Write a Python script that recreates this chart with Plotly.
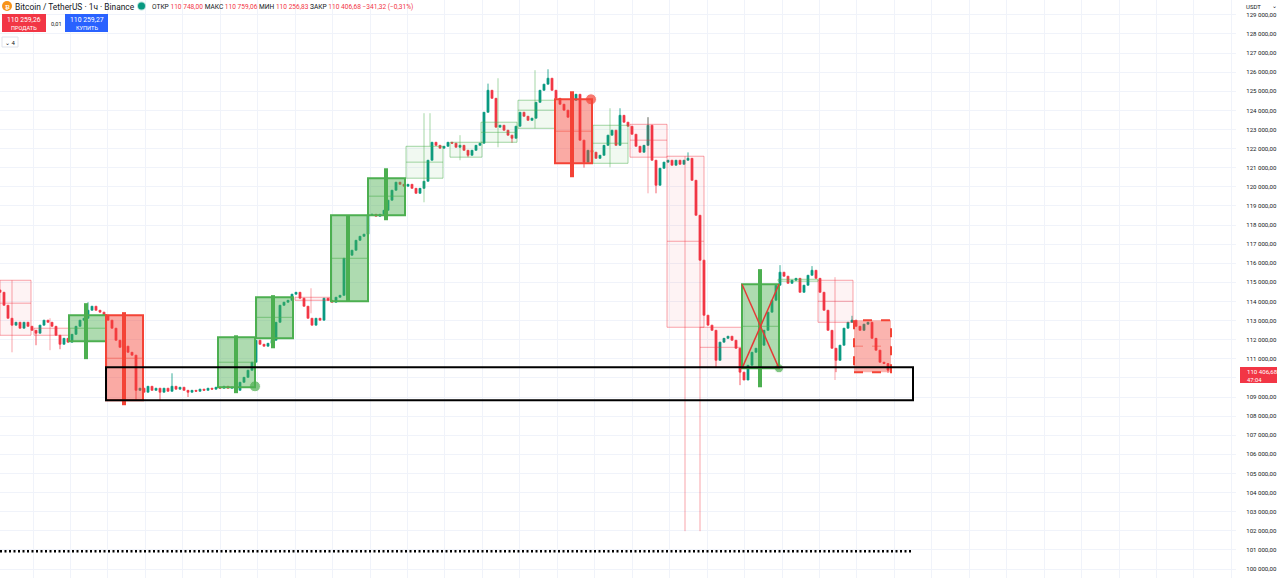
import plotly.graph_objects as go

# ---------------- data (hourly BTC/USDT candles) ----------------
closes = [
    114480, 113800, 113120, 112760, 112910, 112600, 112910, 112700, 112490, 112340,
    112760, 113020, 112910, 112700, 112230, 111760, 112070, 111870, 112280, 112700,
    113020, 113120, 113540, 113750, 113540, 113440, 113280, 113020, 112600, 111970,
    111600, 111660, 111340, 111190, 109350, 109460, 109250, 109560, 109350, 109460,
    109250, 109460, 109300, 109560, 109410, 109510, 109350, 109250, 109350, 109300,
    109410, 109350, 109460, 109410, 109510, 109460, 109560, 109460, 109510, 109350,
    109770, 110030, 110400, 110820, 111970, 111760, 111660, 111810, 111970, 112910,
    113800, 113960, 114060, 114380, 114480, 114170, 113750, 113120, 112760, 113120,
    113020, 114170, 114060, 113960, 114220, 114320, 116260, 116420, 116680, 117200,
    117410, 117520, 118510, 118560, 118460, 118560, 118770, 119300, 119820, 120240,
    120130, 120030, 120130, 119920, 119660, 119920, 120290, 121390, 122330, 122170,
    122020, 122120, 122330, 122280, 122070, 122170, 121910, 121650, 121910, 122170,
    122280, 123900, 125050, 124630, 123120, 123220, 122960, 122700, 122540, 123170,
    123900, 123690, 123480, 123590, 124420, 125050, 125370, 125680, 125050, 124630,
    124320, 124010, 123640, 124530, 124840, 122440, 121290, 121910, 121810, 121490,
    121650, 122170, 122700, 122960, 122170, 123740, 123380, 123170, 122750, 122120,
    121810, 122170, 123220, 121390, 120080, 120970, 121290, 121390, 121130, 121390,
    121180, 121390, 121490, 120340, 118510, 116160, 113280, 112760, 112490, 110920,
    111870, 112070, 112180, 111970, 111550, 110300, 109890, 110660, 111340, 111550,
    111710, 112490, 113440, 114060, 114850, 115530, 115320, 114950, 115110, 115210,
    114480, 114850, 115370, 115630, 115210, 114480, 113540, 112490, 111550, 110920,
    111710, 112600, 112910, 113020, 112700, 112490, 112810, 112910, 112070, 111450,
    110820, 110750, 110406.68,
]
first_open = 114600
last_candle = {"open": 110748.00, "high": 110759.06, "low": 110256.83, "close": 110406.68}
high_wicks = {22: 113960, 43: 110240, 122: 125400, 137: 126150, 143: 124950,
              155: 124110, 162: 123640, 172: 121800, 195: 115900, 203: 115850, 213: 113250}
low_wicks = {9: 111710, 15: 111500, 34: 108830, 40: 108830, 47: 109000, 117: 121550,
             128: 122300, 146: 121000, 164: 119660, 179: 110560, 185: 109620, 209: 110300}

price_ticks = list(range(100000, 130000, 1000))
hidden_tick = 110000  # covered by the last-price label

# ---------------- drawings (candle index / price) ----------------
# x0, x1, top, bottom, mid, bar_x, bar_top, bar_bottom
green_boxes = [
    (17.25, 26.5, 113280, 111920, 112600, 21.5, 113910, 110980),
    (54.5, 63.75, 112130, 109510, 110820, 59.0, 112230, 109200),
    (64.0, 73.25, 114220, 112070, 113170, 68.25, 114330, 111550),
    (82.75, 92.0, 118510, 114010, 116260, 87.0, 118510, 114010),
    (92.0, 101.25, 120450, 118510, 119510, 96.5, 120970, 118250),
    (185.5, 194.75, 114900, 110500, 112700, 190.0, 115690, 109510),
]
red_boxes = [
    (26.5, 35.75, 113280, 108830, 111030, 31.0, 113440, 108570),
    (138.75, 148.0, 124580, 121230, 122910, 143.0, 125000, 120500),
]
dashed_red_box = (213.5, 222.75, 113020, 110300, 111660)
# x0, x1, top, bottom, mid (None = no mid line)
light_red_boxes = [
    (0.0, 7.75, 115110, 112230, 113910),
    (8.5, 17.5, 112600, 112230, None),
    (73.75, 82.5, 114220, 114060, None),
    (157.5, 166.75, 123270, 121550, 122440),
    (166.75, 176.0, 121600, 112650, 117150),
    (175.0, 185.5, 112650, 110560, 111600),
    (204.5, 213.25, 115110, 112910, 114010),
]
light_red_vlines = [(3.0, 115110, 111340), (12.5, 113120, 111450), (77.75, 114690, 113380),
                    (162.0, 123640, 119660), (171.25, 121600, 101980), (175.0, 117150, 101980),
                    (208.75, 115270, 109890)]
light_green_boxes = [
    (101.5, 110.75, 122120, 120450, 121290),
    (112.5, 120.5, 122330, 121550, None),
    (120.25, 129.25, 123380, 122330, 122850),
    (129.5, 138.75, 124530, 123060, 124010),
    (148.25, 157.0, 123220, 121230, 122280),
    (194.5, 204.5, 115160, 115060, None),
]
light_green_vlines = [(106.0, 123850, 119190), (107.5, 123850, 122120), (115.0, 122700, 121390),
                      (124.5, 125680, 122070), (133.75, 126100, 123060), (152.5, 124110, 121020)]
cross_box = 5  # green box with red X
dots = [(63.75, 109560, "#4CAF50", 11), (147.75, 124580, "#F44336", 11), (194.75, 110500, "#4CAF50", 9)]
zone = (26.5, 228.25, 110560, 108830)
dotted_level = (0, 228.25, 100930)

# ---------------- build candles ----------------
n = len(closes)
opens = [first_open] + closes[:-1]
opens[-1] = last_candle["open"]
highs = [max(o, c) for o, c in zip(opens, closes)]
lows = [min(o, c) for o, c in zip(opens, closes)]
for k, v in high_wicks.items():
    highs[k] = max(highs[k], v)
for k, v in low_wicks.items():
    lows[k] = min(lows[k], v)
highs[-1] = last_candle["high"]
lows[-1] = last_candle["low"]
xs = list(range(n))

W, H = 1280, 578
PW = 1236  # plot width in px
PX_PER_CANDLE = 4.0

fig = go.Figure()
fig.add_trace(go.Candlestick(
    x=xs, open=opens, high=highs, low=lows, close=closes,
    increasing=dict(line=dict(color="#089981", width=0.8), fillcolor="#089981"),
    decreasing=dict(line=dict(color="#F23645", width=0.8), fillcolor="#F23645"),
    whiskerwidth=0, hoverinfo="skip", showlegend=False))

shapes = []


def rect(x0, x1, y0, y1, color, width, fill, dash="solid"):
    shapes.append(dict(type="rect", xref="x", yref="y", x0=x0, x1=x1, y0=y0, y1=y1,
                       line=dict(color=color, width=width, dash=dash), fillcolor=fill, layer="above"))


def seg(x0, y0, x1, y1, color, width, dash="solid"):
    shapes.append(dict(type="line", xref="x", yref="y", x0=x0, x1=x1, y0=y0, y1=y1,
                       line=dict(color=color, width=width, dash=dash), layer="above"))


LR = "rgba(242,54,69,0.45)"
LG = "rgba(76,175,80,0.5)"
for x0, x1, t, b, m in light_red_boxes:
    rect(x0, x1, b, t, LR, 1, "rgba(242,54,69,0.06)")
    if m is not None:
        seg(x0, m, x1, m, LR, 1)
for x, t, b in light_red_vlines:
    seg(x, t, x, b, LR, 1)
for x0, x1, t, b, m in light_green_boxes:
    rect(x0, x1, b, t, LG, 1, "rgba(76,175,80,0.08)")
    if m is not None:
        seg(x0, m, x1, m, LG, 1)
for x, t, b in light_green_vlines:
    seg(x, t, x, b, LG, 1)

for i, (x0, x1, t, b, m, bx, bt, bb) in enumerate(green_boxes):
    rect(x0, x1, b, t, "#4CAF50", 2, "rgba(76,175,80,0.45)")
    seg(x0, m, x1, m, "rgba(76,175,80,0.6)", 1)
    seg(bx, bt, bx, bb, "#4CAF50", 4)
    if i == cross_box:
        seg(x0, t, x1, b, "#E53935", 1.5)
        seg(x0, b, x1, t, "#E53935", 1.5)
for x0, x1, t, b, m, bx, bt, bb in red_boxes:
    rect(x0, x1, b, t, "#F44336", 2, "rgba(244,67,54,0.45)")
    seg(x0, m, x1, m, "rgba(244,67,54,0.5)", 1)
    seg(bx, bt, bx, bb, "#F44336", 4)
x0, x1, t, b, m = dashed_red_box
rect(x0, x1, b, t, "#F44336", 2, "rgba(244,67,54,0.4)", dash="dash")
seg(x0, m, x1, m, "rgba(244,67,54,0.5)", 1, dash="dash")

zx0, zx1, zt, zb = zone
rect(zx0, zx1, zb, zt, "#000000", 2, "rgba(0,0,0,0)")
dx0, dx1, dy = dotted_level
seg(dx0, dy, dx1, dy, "#000000", 2.5, dash="2px,2.5px")

fig.add_trace(go.Scatter(x=[d[0] for d in dots], y=[d[1] for d in dots], mode="markers",
                         marker=dict(color=[d[2] for d in dots], size=[d[3] for d in dots]),
                         hoverinfo="skip", showlegend=False))


# ---------------- header / labels in pixel positions ----------------
def pxx(x):
    return x / PW


def pyy(y):
    return 1 - y / H


def prect(x0, y0, x1, y1, fill, line=None):
    shapes.append(dict(type="rect", xref="paper", yref="paper", x0=pxx(x0), x1=pxx(x1),
                       y0=pyy(y1), y1=pyy(y0), fillcolor=fill,
                       line=dict(color=line or fill, width=1 if line else 0), layer="above"))


ann = []


def txt(x, y, s, size, color="#131722", anchor="left", bold=False):
    if bold:
        s = "<b>" + s + "</b>"
    ann.append(dict(x=pxx(x), y=pyy(y), xref="paper", yref="paper", text=s, showarrow=False,
                    xanchor=anchor, yanchor="middle", borderpad=0,
                    font=dict(size=size, color=color, family="Roboto, Arial, sans-serif")))


# BTC icon
shapes.append(dict(type="circle", xref="paper", yref="paper", x0=pxx(2), x1=pxx(12),
                   y0=pyy(11), y1=pyy(1), fillcolor="#F7931A", line=dict(width=0), layer="above"))
txt(7, 6, "₿", 6, "white", "center", True)
txt(14, 6.5, "Bitcoin / TetherUS · 1ч · Binance", 8.4)
shapes.append(dict(type="circle", xref="paper", yref="paper", x0=pxx(138), x1=pxx(145),
                   y0=pyy(9.5), y1=pyy(2.5), fillcolor="#089981",
                   line=dict(color="rgba(8,153,129,0.3)", width=2), layer="above"))
R = "#F23645"
ohlc = ("ОТКР <span style='color:%s'>110 748,00</span> МАКС <span style='color:%s'>110 759,06</span> "
        "МИН <span style='color:%s'>110 256,83</span> ЗАКР <span style='color:%s'>110 406,68 "
        "−341,32 (−0,31%%)</span>") % (R, R, R, R)
txt(151, 6.5, ohlc, 6.6)

prect(2, 14, 46, 32, "#F23645")
txt(24, 19.5, "110 259,26", 6.8, "white", "center")
txt(24, 27.5, "ПРОДАТЬ", 5.6, "white", "center")
txt(56, 23.5, "0,01", 5.6, "#131722", "center")
prect(65, 14, 108, 32, "#2962FF")
txt(86.5, 19.5, "110 259,27", 6.8, "white", "center")
txt(86.5, 27.5, "КУПИТЬ", 5.6, "white", "center")
prect(2, 37, 18, 47, "white", "#E0E3EB")
txt(10, 42, "⌄ 4", 6, "#131722", "center")

# axis top label
prect(1238, 0, 1280, 12, "white")
txt(1245, 6.5, "USDT", 6)
txt(1274, 5.5, "⌄", 6, "#131722", "center")
# last price label
prect(1240, 367, 1277, 383, "#F23645")
txt(1245.5, 371.5, "110 406,68", 6.1, "white")
txt(1245.5, 379.5, "47:04", 5.8, "white")


def fmt(v):
    return "{:,.2f}".format(v).replace(",", " ").replace(".", ",")


tick_text = ["" if v == hidden_tick else fmt(v) for v in price_ticks]
grid_x = [(33 + 37.45 * k) / PX_PER_CANDLE for k in range(33)]

fig.update_layout(
    width=W, height=H, margin=dict(l=0, r=W - PW, t=0, b=0, pad=0, autoexpand=False),
    paper_bgcolor="white", plot_bgcolor="white",
    shapes=shapes, annotations=ann, hovermode=False, showlegend=False,
    xaxis=dict(range=[0, PW / PX_PER_CANDLE], tickvals=grid_x, showticklabels=False,
               showgrid=True, gridcolor="#F0F3FA", gridwidth=1, zeroline=False, showline=False,
               ticks="", rangeslider=dict(visible=False), fixedrange=True, automargin=False),
    yaxis=dict(side="right", range=[99529, 129775], tickvals=price_ticks, ticktext=tick_text,
               showgrid=True, gridcolor="#F0F3FA", gridwidth=1, zeroline=False, showline=False,
               ticks="outside", ticklen=8, tickcolor="rgba(0,0,0,0)", automargin=False,
               tickfont=dict(size=6.1, color="#131722", family="Roboto, Arial, sans-serif"),
               fixedrange=True),
)

fig.write_html("out.html", config={"displayModeBar": False},
               post_script="document.body.style.margin='0';document.body.style.overflow='hidden';")
